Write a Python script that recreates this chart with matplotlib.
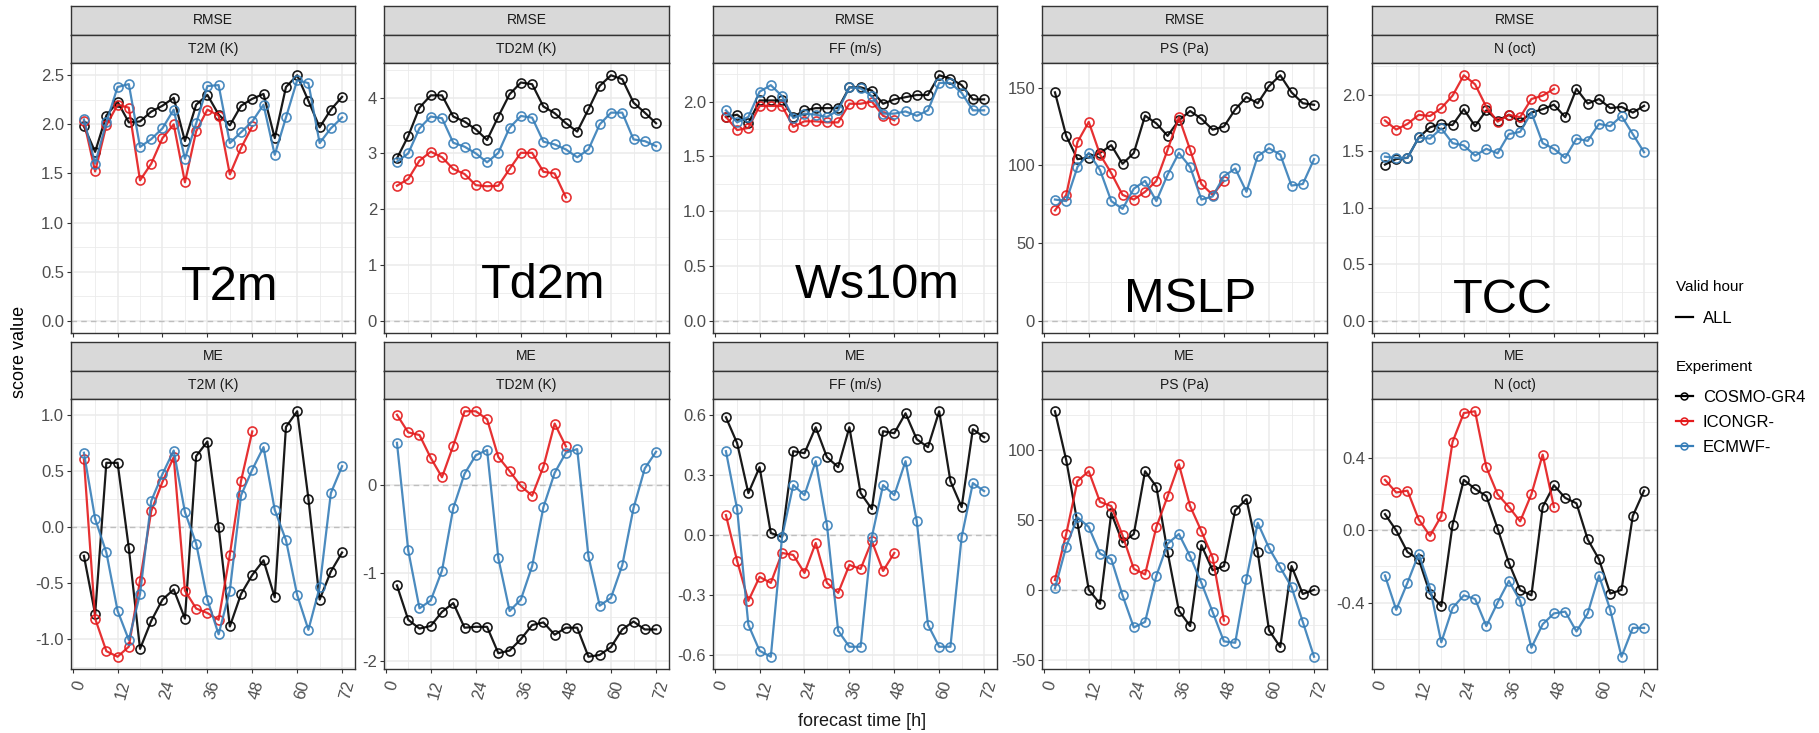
import matplotlib
matplotlib.use("Agg")
import matplotlib.pyplot as plt
from matplotlib.lines import Line2D
from matplotlib.ticker import AutoMinorLocator, FixedLocator

plt.rcParams['font.family'] = ['Liberation Sans', 'DejaVu Sans']

# forecast lead times (h)
lead = list(range(3, 73, 3))
lead_icon = list(range(3, 49, 3))

experiments = ['COSMO-GR4', 'ICONGR-', 'ECMWF-']
exp_colors = ['#000000', '#E41A1C', '#377EB8']

scores = ['RMSE', 'ME']
params = ['T2M (K)', 'TD2M (K)', 'FF (m/s)', 'PS (Pa)', 'N (oct)']
big_labels = ['T2m', 'Td2m', 'Ws10m', 'MSLP', 'TCC']

# ---- RMSE ----
t2m_rmse_cosmo = [1.98, 1.72, 2.09, 2.23, 2.02, 2.03, 2.13, 2.19, 2.27, 1.83, 2.20, 2.30,
                  2.10, 1.99, 2.19, 2.26, 2.31, 1.86, 2.38, 2.50, 2.24, 1.97, 2.15, 2.28]
t2m_rmse_icon = [2.03, 1.52, 1.99, 2.20, 2.17, 1.43, 1.60, 1.86, 2.00, 1.41, 1.93, 2.15,
                 2.09, 1.49, 1.76, 1.98]
t2m_rmse_ecmwf = [2.05, 1.60, 2.02, 2.38, 2.41, 1.77, 1.85, 1.96, 2.15, 1.65, 2.01, 2.39,
                  2.40, 1.81, 1.92, 2.03, 2.20, 1.69, 2.07, 2.45, 2.42, 1.81, 1.96, 2.07]

td2m_rmse_cosmo = [2.91, 3.31, 3.82, 4.04, 4.04, 3.66, 3.57, 3.43, 3.24, 3.66, 4.06, 4.27,
                   4.24, 3.84, 3.72, 3.54, 3.39, 3.79, 4.21, 4.40, 4.33, 3.91, 3.73, 3.54]
td2m_rmse_icon = [2.42, 2.54, 2.87, 3.03, 2.93, 2.72, 2.63, 2.43, 2.41, 2.42, 2.72, 3.01,
                  3.01, 2.67, 2.64, 2.21]
td2m_rmse_ecmwf = [2.85, 3.00, 3.45, 3.66, 3.63, 3.19, 3.12, 3.00, 2.84, 3.01, 3.46, 3.67,
                   3.64, 3.21, 3.16, 3.07, 2.93, 3.07, 3.52, 3.73, 3.73, 3.25, 3.22, 3.13]

ff_rmse_cosmo = [1.86, 1.88, 1.80, 2.01, 2.01, 2.01, 1.86, 1.92, 1.94, 1.94, 1.94, 2.13,
                 2.13, 2.10, 1.98, 2.02, 2.04, 2.06, 2.06, 2.24, 2.21, 2.15, 2.02, 2.02]
ff_rmse_icon = [1.86, 1.74, 1.76, 1.96, 1.96, 1.96, 1.77, 1.82, 1.82, 1.81, 1.81, 1.98,
                1.98, 2.00, 1.87, 1.83]
ff_rmse_ecmwf = [1.92, 1.81, 1.86, 2.09, 2.15, 2.05, 1.85, 1.89, 1.88, 1.86, 1.92, 2.13,
                 2.12, 2.05, 1.89, 1.89, 1.91, 1.87, 1.92, 2.17, 2.17, 2.08, 1.92, 1.92]

ps_rmse_cosmo = [147, 119, 104, 105, 108, 113, 101, 108, 132, 127, 119, 129,
                 135, 130, 123, 125, 136, 144, 140, 151, 158, 147, 140, 139]
ps_rmse_icon = [71, 81, 115, 128, 107, 95, 81, 78, 83, 90, 110, 131, 110, 88, 81, 90]
ps_rmse_ecmwf = [78, 77, 99, 108, 97, 77, 72, 85, 90, 77, 94, 108,
                 99, 78, 80, 93, 98, 83, 106, 111, 107, 87, 88, 104]

n_rmse_cosmo = [1.38, 1.43, 1.44, 1.62, 1.71, 1.74, 1.73, 1.87, 1.72, 1.86, 1.77, 1.82,
                1.76, 1.84, 1.87, 1.91, 1.80, 2.05, 1.92, 1.96, 1.88, 1.89, 1.84, 1.90]
n_rmse_icon = [1.77, 1.69, 1.74, 1.82, 1.81, 1.88, 1.99, 2.17, 2.09, 1.89, 1.76, 1.82,
               1.80, 1.96, 1.99, 2.05]
n_rmse_ecmwf = [1.45, 1.44, 1.44, 1.62, 1.61, 1.70, 1.57, 1.55, 1.46, 1.52, 1.48, 1.65,
                1.67, 1.84, 1.57, 1.52, 1.44, 1.61, 1.59, 1.74, 1.72, 1.81, 1.65, 1.49]

# ---- ME ----
t2m_me_cosmo = [-0.26, -0.78, 0.57, 0.57, -0.19, -1.09, -0.84, -0.65, -0.56, -0.82, 0.63, 0.76,
                0.00, -0.89, -0.60, -0.43, -0.30, -0.63, 0.89, 1.03, 0.25, -0.65, -0.40, -0.23]
t2m_me_icon = [0.60, -0.82, -1.11, -1.16, -1.07, -0.48, 0.14, 0.40, 0.62, -0.57, -0.73, -0.77,
               -0.83, -0.25, 0.41, 0.85]
t2m_me_ecmwf = [0.66, 0.07, -0.23, -0.75, -1.01, -0.60, 0.23, 0.47, 0.68, 0.13, -0.15, -0.65,
                -0.96, -0.57, 0.28, 0.51, 0.71, 0.15, -0.12, -0.61, -0.92, -0.54, 0.30, 0.54]

td2m_me_cosmo = [-1.14, -1.53, -1.63, -1.60, -1.44, -1.34, -1.62, -1.61, -1.61, -1.91, -1.88, -1.75,
                 -1.59, -1.56, -1.70, -1.62, -1.62, -1.95, -1.93, -1.84, -1.64, -1.55, -1.64, -1.64]
td2m_me_icon = [0.80, 0.60, 0.57, 0.31, 0.09, 0.45, 0.84, 0.84, 0.75, 0.32, 0.16, -0.01,
                -0.12, 0.21, 0.70, 0.44]
td2m_me_ecmwf = [0.48, -0.74, -1.40, -1.31, -0.97, -0.26, 0.13, 0.34, 0.40, -0.83, -1.43, -1.30,
                 -0.92, -0.25, 0.14, 0.37, 0.41, -0.81, -1.37, -1.28, -0.91, -0.26, 0.19, 0.38]

ff_me_cosmo = [0.59, 0.46, 0.21, 0.34, 0.01, -0.01, 0.42, 0.41, 0.54, 0.39, 0.34, 0.54,
               0.21, 0.13, 0.52, 0.51, 0.61, 0.48, 0.44, 0.62, 0.27, 0.14, 0.53, 0.49]
ff_me_icon = [0.10, -0.13, -0.33, -0.21, -0.24, -0.09, -0.10, -0.19, -0.04, -0.24, -0.29, -0.15,
              -0.17, -0.03, -0.18, -0.09]
ff_me_ecmwf = [0.42, 0.13, -0.45, -0.58, -0.61, -0.01, 0.25, 0.20, 0.37, 0.05, -0.48, -0.56,
               -0.56, -0.01, 0.25, 0.20, 0.37, 0.07, -0.45, -0.56, -0.56, -0.01, 0.26, 0.22]

ps_me_cosmo = [128, 93, 48, 0, -10, 55, 34, 40, 85, 74, 27, -15,
               -26, 32, 14, 17, 57, 65, 27, -29, -41, 17, -3, 0]
ps_me_icon = [7, 40, 78, 85, 63, 60, 39, 15, 11, 45, 67, 90, 60, 42, 23, -22]
ps_me_ecmwf = [1, 31, 52, 45, 26, 22, -4, -27, -23, 10, 33, 40,
               24, 5, -16, -37, -38, 8, 48, 30, 16, 2, -23, -48]

n_me_cosmo = [0.09, 0.00, -0.12, -0.16, -0.35, -0.42, 0.03, 0.28, 0.23, 0.19, 0.01, -0.18,
              -0.33, -0.36, 0.13, 0.25, 0.18, 0.15, -0.05, -0.16, -0.35, -0.33, 0.08, 0.22]
n_me_icon = [0.28, 0.21, 0.22, 0.06, -0.03, 0.08, 0.49, 0.65, 0.66, 0.35, 0.20, 0.13,
             0.05, 0.20, 0.42, 0.13]
n_me_ecmwf = [-0.25, -0.44, -0.29, -0.13, -0.32, -0.62, -0.43, -0.36, -0.38, -0.53, -0.40, -0.28,
              -0.39, -0.65, -0.52, -0.46, -0.45, -0.56, -0.46, -0.25, -0.44, -0.70, -0.54, -0.54]

# y tick breaks per panel
rmse_ticks = [[0, 0.5, 1, 1.5, 2, 2.5], [0, 1, 2, 3, 4], [0, 0.5, 1, 1.5, 2],
              [0, 50, 100, 150], [0, 0.5, 1, 1.5, 2]]
rmse_ticklabels = [['0.0', '0.5', '1.0', '1.5', '2.0', '2.5'], ['0', '1', '2', '3', '4'],
                   ['0.0', '0.5', '1.0', '1.5', '2.0'], ['0', '50', '100', '150'],
                   ['0.0', '0.5', '1.0', '1.5', '2.0']]
me_ticks = [[-1, -0.5, 0, 0.5, 1], [-2, -1, 0], [-0.6, -0.3, 0, 0.3, 0.6],
            [-50, 0, 50, 100], [-0.4, 0, 0.4]]
me_ticklabels = [['-1.0', '-0.5', '0.0', '0.5', '1.0'], ['-2', '-1', '0'],
                 ['-0.6', '-0.3', '0.0', '0.3', '0.6'], ['-50', '0', '50', '100'],
                 ['-0.4', '0.0', '0.4']]
x_ticks = [0, 12, 24, 36, 48, 60, 72]

data = {
    'RMSE': [
        [t2m_rmse_cosmo, t2m_rmse_icon, t2m_rmse_ecmwf],
        [td2m_rmse_cosmo, td2m_rmse_icon, td2m_rmse_ecmwf],
        [ff_rmse_cosmo, ff_rmse_icon, ff_rmse_ecmwf],
        [ps_rmse_cosmo, ps_rmse_icon, ps_rmse_ecmwf],
        [n_rmse_cosmo, n_rmse_icon, n_rmse_ecmwf],
    ],
    'ME': [
        [t2m_me_cosmo, t2m_me_icon, t2m_me_ecmwf],
        [td2m_me_cosmo, td2m_me_icon, td2m_me_ecmwf],
        [ff_me_cosmo, ff_me_icon, ff_me_ecmwf],
        [ps_me_cosmo, ps_me_icon, ps_me_ecmwf],
        [n_me_cosmo, n_me_icon, n_me_ecmwf],
    ],
}
ticks = {'RMSE': (rmse_ticks, rmse_ticklabels), 'ME': (me_ticks, me_ticklabels)}

# layout in pixels
W, H = 1819, 733
col_x = [(71, 355), (384, 669), (713, 997), (1042, 1327), (1372, 1657)]
row_y = [(6, 34.5, 63, 333), (342, 370.5, 399, 669)]
big_pos = [(230, 300), (543, 298), (877, 298), (1190, 312), (1503, 313)]

GREY20 = '#333333'


def rect(x0, y0, x1, y1):
    return [x0 / W, 1 - y1 / H, (x1 - x0) / W, (y1 - y0) / H]


def add_strip(fig, x0, y0, x1, y1, label):
    s = fig.add_axes(rect(x0, y0, x1, y1))
    s.set_facecolor('#D9D9D9')
    s.set_xticks([])
    s.set_yticks([])
    for sp in s.spines.values():
        sp.set_color(GREY20)
        sp.set_linewidth(1.0)
    s.text(0.5, 0.5, label, ha='center', va='center', fontsize=10,
           color='#1A1A1A', transform=s.transAxes)


fig = plt.figure(figsize=(W / 100, H / 100), dpi=100)

for r, score in enumerate(scores):
    st, sm, pt, pb = row_y[r]
    tk_all, tl_all = ticks[score]
    for c, param in enumerate(params):
        x0, x1 = col_x[c]
        add_strip(fig, x0, st, x1, sm, score)
        add_strip(fig, x0, sm, x1, pt, param)

        ax = fig.add_axes(rect(x0, pt, x1, pb))
        series = data[score][c]
        allv = [v for s in series for v in s] + [0]
        lo, hi = min(allv), max(allv)
        pad = 0.05 * (hi - lo)
        ax.set_ylim(lo - pad, hi + pad)
        ax.set_xlim(3 - 0.05 * 69, 72 + 0.05 * 69)

        ax.axhline(0, color='#BEBEBE', lw=1.0, ls=(0, (4, 3)), zorder=1.5)
        for e, vals in enumerate(series):
            xs = lead_icon if e == 1 else lead
            ax.plot(xs, vals, color=exp_colors[e], lw=1.6, marker='o', ms=6.5,
                    mfc='none', mew=1.2, alpha=0.9, zorder=2 + e)

        ax.yaxis.set_major_locator(FixedLocator(tk_all[c]))
        ax.set_yticklabels(tl_all[c])
        ax.xaxis.set_major_locator(FixedLocator(x_ticks))
        ax.xaxis.set_minor_locator(AutoMinorLocator(2))
        ax.yaxis.set_minor_locator(AutoMinorLocator(2))
        ax.grid(which='major', color='#EBEBEB', lw=1.1)
        ax.grid(which='minor', color='#EBEBEB', lw=0.6)
        ax.set_axisbelow(True)
        ax.tick_params(which='minor', length=0)
        ax.tick_params(which='major', length=3, width=0.8, color=GREY20,
                       labelsize=12, labelcolor='#4D4D4D', pad=2)
        ax.tick_params(axis='x', which='major', pad=4)
        for sp in ax.spines.values():
            sp.set_color(GREY20)
            sp.set_linewidth(1.0)

        if r == 0:
            ax.set_xticklabels([])
        else:
            ax.set_xticklabels([str(t) for t in x_ticks], rotation=75,
                               rotation_mode='anchor', ha='right', va='top')

        if r == 0:
            bx, by = big_pos[c]
            fig.text(bx / W, 1 - by / H, big_labels[c], ha='center',
                     va='baseline', fontsize=35, color='black')

fig.text(19 / W, 1 - 352 / H, 'score value', rotation=90, ha='center',
         va='center', fontsize=13, color='black')
fig.text(862 / W, 1 - 721 / H, 'forecast time [h]', ha='center', va='center',
         fontsize=13, color='#1A1A1A')

# legends: titles as text, entries via fig.legend
fig.text(1676 / W, 1 - 287 / H, 'Valid hour', ha='left', va='center',
         fontsize=11, color='black')
fig.text(1676 / W, 1 - 367 / H, 'Experiment', ha='left', va='center',
         fontsize=11, color='black')

h_all = [Line2D([], [], color='black', lw=1.6)]
fig.legend(h_all, ['ALL'], loc='upper left',
           bbox_to_anchor=(1676 / W, 1 - 311 / H), frameon=False,
           fontsize=12, handlelength=1.0, handletextpad=0.6,
           borderpad=0, borderaxespad=0)
h_exp = [Line2D([], [], color=col, lw=1.6, marker='o', ms=5, mfc='none', mew=1.1)
         for col in exp_colors]
fig.legend(h_exp, experiments, loc='upper left',
           bbox_to_anchor=(1676 / W, 1 - 390 / H), frameon=False,
           fontsize=12, handlelength=1.0, handletextpad=0.6,
           borderpad=0, borderaxespad=0, labelspacing=0.6)

fig.savefig('out.png', dpi=100)
